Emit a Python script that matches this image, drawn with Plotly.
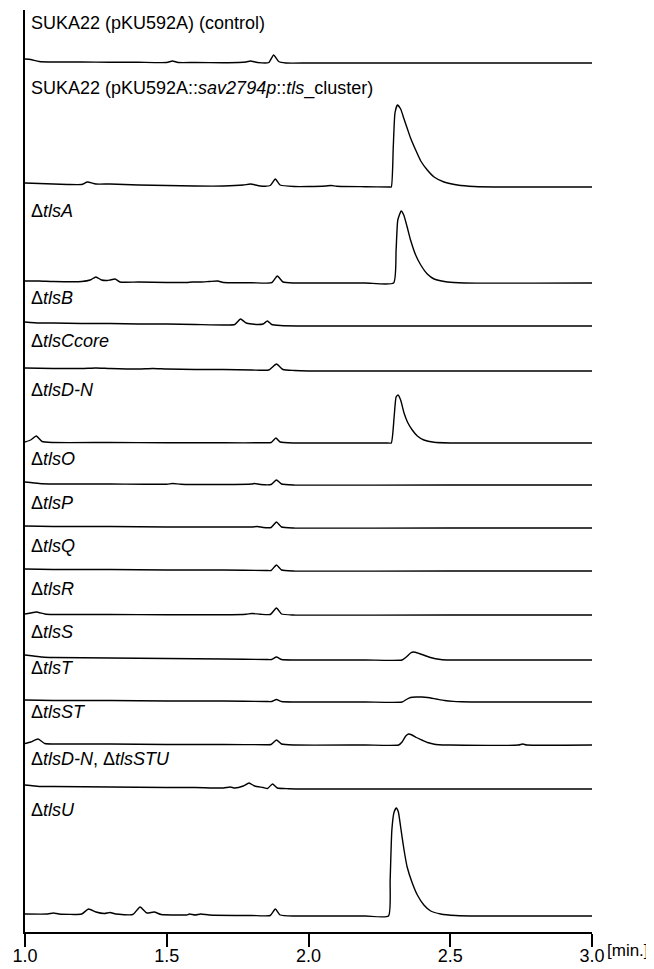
import plotly.graph_objects as go

# ---------------- data (signal height above each trace's own baseline) ----------------
labels = [
    "SUKA22 (pKU592A) (control)",
    "SUKA22 (pKU592A::<i>sav2794p</i>::<i>tls</i>_cluster)",
    "Δ<i>tlsA</i>", "Δ<i>tlsB</i>", "Δ<i>tlsCcore</i>", "Δ<i>tlsD-N</i>",
    "Δ<i>tlsO</i>", "Δ<i>tlsP</i>", "Δ<i>tlsQ</i>", "Δ<i>tlsR</i>",
    "Δ<i>tlsS</i>", "Δ<i>tlsT</i>", "Δ<i>tlsST</i>",
    "Δ<i>tlsD-N</i>, Δ<i>tlsSTU</i>", "Δ<i>tlsU</i>",
]
# vertical baseline offset of each chromatogram
offsets = [869, 745, 649, 606, 561, 489, 447, 404, 361, 317, 272, 230, 187, 143, 16]
# vertical position of each label
label_y = [909, 844, 721, 634.5, 591, 542, 473, 429, 386.5, 343, 300, 264, 220, 173.5, 122.5]

control_t = [1.00, 1.02, 1.05, 1.10, 1.20, 1.30, 1.40, 1.50, 1.52, 1.54, 1.60, 1.70, 1.78, 1.795,
             1.82, 1.86, 1.877, 1.895, 1.92, 2.0, 2.2, 2.4, 2.6, 2.8, 3.0]
control_y = [4, 3.5, 1.5, 1, 1, 0.8, 0.7, 0.5, 2, 0.5, 0.5, 0.3, 1, 2,
             0.5, 0.5, 8, 1.5, 0, 0, 0, 0, 0, 0, 0]

cluster_t = [1.00, 1.05, 1.10, 1.15, 1.20, 1.22, 1.25, 1.30, 1.40, 1.50, 1.60, 1.70, 1.77, 1.795,
             1.83, 1.865, 1.883, 1.90, 1.95, 2.00, 2.06, 2.08, 2.10, 2.20, 2.285, 2.292, 2.299,
             2.305, 2.3135, 2.325, 2.337, 2.349, 2.360, 2.378, 2.396, 2.419, 2.443, 2.478,
             2.525, 2.584, 2.7, 3.0]
cluster_y = [4, 3.5, 3, 2.5, 2.5, 5, 3, 3, 2, 1.5, 1, 1, 2, 3,
             1, 1.5, 8, 2, 0.5, 0.5, 1, 1.5, 0.8, 0.3, 0, 0, 40,
             74, 82, 78, 68, 58, 49, 37, 26, 17, 10, 5,
             2, 0.5, 0, 0]

tlsA_t = [1.00, 1.05, 1.10, 1.20, 1.23, 1.25, 1.27, 1.29, 1.30, 1.318, 1.335, 1.40, 1.50, 1.57,
          1.59, 1.62, 1.65, 1.68, 1.70, 1.80, 1.87, 1.89, 1.91, 1.95, 2.0, 2.2, 2.300, 2.309,
          2.315, 2.327, 2.336, 2.348, 2.360, 2.378, 2.396, 2.419, 2.443, 2.490, 2.55, 3.0]
tlsA_y = [2, 2, 1.5, 1.5, 3, 6, 3, 2.5, 3, 4, 1, 1, 0.5, 0.5,
          1, 1, 1.5, 2, 0.5, 0.3, 0.3, 7, 1, 0, 0, 0, 0, 33,
          63, 72, 68, 56, 43, 28, 18, 9, 4, 1, 0, 0]

tlsB_t = [1.00, 1.05, 1.10, 1.20, 1.30, 1.40, 1.50, 1.60, 1.70, 1.74, 1.76, 1.78, 1.82, 1.84,
          1.855, 1.87, 1.90, 2.0, 2.2, 2.5, 2.8, 3.0]
tlsB_y = [4, 3, 3, 2.5, 2.5, 2, 2, 1.5, 1, 1.5, 7, 3, 1.5, 2,
          5, 1.5, 0.5, 0, 0, 0, 0, 0]

tlsC_t = [1.00, 1.10, 1.20, 1.25, 1.30, 1.40, 1.45, 1.50, 1.60, 1.70, 1.80, 1.86, 1.887, 1.91,
          1.95, 2.0, 2.5, 3.0]
tlsC_y = [3, 2.5, 2.5, 3, 2.5, 2, 2.5, 2, 1.5, 1.5, 1, 1, 7, 1.5,
          0.5, 0, 0, 0]

tlsDN_t = [1.00, 1.02, 1.04, 1.06, 1.10, 1.30, 1.50, 1.70, 1.85, 1.868, 1.885, 1.90, 1.95, 2.0,
           2.2, 2.28, 2.292, 2.302, 2.309, 2.316, 2.325, 2.337, 2.349, 2.366, 2.384, 2.407,
           2.443, 2.5, 3.0]
tlsDN_y = [1, 3, 7, 1.5, 0.5, 0.5, 0.3, 0.2, 0.2, 0.5, 5, 1, 0, 0,
           0, 0, 0, 26, 46, 48, 43, 30, 21, 13, 7, 3,
           0.7, 0, 0]

tlsO_t = [1.00, 1.05, 1.10, 1.30, 1.50, 1.52, 1.55, 1.70, 1.80, 1.81, 1.83, 1.868, 1.887, 1.905,
          1.95, 2.5, 3.0]
tlsO_y = [3, 1.5, 1, 1, 0.8, 1.5, 0.8, 0.5, 1, 1.5, 0.5, 0.5, 5, 1,
          0, 0, 0]

tlsP_t = [1.00, 1.10, 1.30, 1.50, 1.70, 1.80, 1.82, 1.84, 1.868, 1.887, 1.905, 1.95, 2.5, 3.0]
tlsP_y = [2, 1.5, 1.5, 1, 1, 1, 1.5, 0.5, 0.5, 6, 1, 0, 0, 0]

tlsQ_t = [1.00, 1.10, 1.30, 1.50, 1.70, 1.85, 1.868, 1.887, 1.905, 1.95, 2.5, 3.0]
tlsQ_y = [2, 1.5, 1.5, 1, 1, 0.5, 0.5, 6, 1, 0, 0, 0]

tlsR_t = [1.00, 1.02, 1.04, 1.07, 1.10, 1.30, 1.50, 1.70, 1.78, 1.80, 1.83, 1.865, 1.887, 1.905,
          1.95, 2.5, 3.0]
tlsR_y = [1, 2, 3, 1, 0.5, 0.5, 0.3, 0.3, 0.8, 1.5, 0.8, 0.5, 7, 1,
          0, 0, 0]

tlsS_t = [1.00, 1.03, 1.06, 1.10, 1.30, 1.50, 1.70, 1.85, 1.87, 1.887, 1.905, 1.95, 2.2, 2.33,
          2.345, 2.36, 2.37, 2.39, 2.41, 2.43, 2.466, 2.5, 3.0]
tlsS_y = [5, 4, 3, 2.5, 2, 1.5, 1, 0.5, 0.5, 3, 0.5, 0, 0, 0,
          3, 7, 8, 6.5, 4.5, 2.5, 0.5, 0, 0]

tlsT_t = [1.00, 1.10, 1.30, 1.50, 1.70, 1.85, 1.87, 1.887, 1.905, 1.95, 2.2, 2.33, 2.345, 2.36,
          2.38, 2.40, 2.42, 2.45, 2.48, 2.51, 2.54, 2.6, 3.0]
tlsT_y = [2, 1.5, 1.5, 1, 1, 0.5, 0.5, 2.5, 0.5, 0, 0, 0, 2.5, 4.5,
          5, 5, 4.5, 3, 1.5, 0.6, 0.2, 0, 0]

tlsST_t = [1.00, 1.02, 1.046, 1.07, 1.10, 1.30, 1.50, 1.70, 1.85, 1.868, 1.887, 1.905, 1.95, 2.2,
           2.318, 2.33, 2.343, 2.353, 2.365, 2.38, 2.40, 2.42, 2.44, 2.46, 2.5, 2.74, 2.756,
           2.77, 3.0]
tlsST_y = [1.5, 3, 6, 1.5, 1, 1, 0.5, 0.5, 0.3, 0.5, 5, 1, 0, 0,
           0, 3, 9, 11, 10, 7.5, 5, 2.5, 1, 0.3, 0, 0, 1,
           0, 0]

tlsDNSTU_t = [1.00, 1.05, 1.10, 1.30, 1.50, 1.60, 1.70, 1.724, 1.74, 1.77, 1.79, 1.81, 1.84,
              1.855, 1.873, 1.89, 1.93, 2.0, 2.5, 3.0]
tlsDNSTU_y = [4, 2.5, 2.5, 2, 1.5, 1.5, 1, 2, 1, 3, 6, 3, 1.5,
              0.5, 5, 1, 0.3, 0, 0, 0]

tlsU_t = [1.00, 1.08, 1.10, 1.12, 1.20, 1.224, 1.25, 1.28, 1.30, 1.32, 1.38, 1.406, 1.43, 1.456,
          1.48, 1.55, 1.57, 1.58, 1.60, 1.62, 1.65, 1.80, 1.865, 1.883, 1.90, 1.95, 2.0, 2.2,
          2.282, 2.288, 2.294, 2.302, 2.310, 2.317, 2.325, 2.337, 2.348, 2.366, 2.384, 2.407,
          2.431, 2.466, 2.52, 2.6, 3.0]
tlsU_y = [2, 2, 3, 2, 2, 7, 4, 2.5, 3.5, 2, 1.5, 9, 3, 4,
          1.5, 1, 1, 2, 1, 2, 1, 0.5, 0.5, 7, 1, 0, 0, 0,
          0, 36, 86, 104, 108, 104, 89, 66, 49, 33, 21, 11,
          5, 2, 0.5, 0, 0]

series_t = [control_t, cluster_t, tlsA_t, tlsB_t, tlsC_t, tlsDN_t, tlsO_t, tlsP_t, tlsQ_t,
            tlsR_t, tlsS_t, tlsT_t, tlsST_t, tlsDNSTU_t, tlsU_t]
series_y = [control_y, cluster_y, tlsA_y, tlsB_y, tlsC_y, tlsDN_y, tlsO_y, tlsP_y, tlsQ_y,
            tlsR_y, tlsS_y, tlsT_y, tlsST_y, tlsDNSTU_y, tlsU_y]

tick_vals = [1.0, 1.5, 2.0, 2.5, 3.0]
tick_text = ["1.0", "1.5", "2.0", "2.5", "3.0"]
unit_text = "[min.]"

FONT = "Liberation Sans, Arial, Helvetica, sans-serif"

fig = go.Figure()
for t, y, off in zip(series_t, series_y, offsets):
    fig.add_trace(go.Scatter(
        x=t, y=[v + off for v in y], mode="lines",
        line=dict(color="black", width=1.4, shape="spline", smoothing=0.5),
        hoverinfo="skip", showlegend=False,
    ))

for lab, ly in zip(labels, label_y):
    fig.add_annotation(x=1.021, y=ly, xref="x", yref="y", text=lab, showarrow=False,
                       xanchor="left", yanchor="middle", xshift=-2,
                       font=dict(family=FONT, size=18, color="black"))

fig.add_annotation(x=3.0, y=0, xref="x", yref="paper", text=unit_text, showarrow=False,
                   xanchor="left", yanchor="top", xshift=14, yshift=-8, borderpad=0,
                   font=dict(family=FONT, size=17, color="black"))

# the page body adds an 8 px offset at top/left, so the figure is 8 px smaller on each axis
fig.update_layout(
    width=646, height=961,
    margin=dict(l=17, r=62, t=2, b=37, autoexpand=False),
    paper_bgcolor="white", plot_bgcolor="white",
    font=dict(family=FONT, size=18, color="black"),
    xaxis=dict(range=[1.0, 3.0], showline=True, linecolor="black", linewidth=2,
               ticks="outside", ticklen=13, tickwidth=2, tickcolor="black",
               tickvals=tick_vals, ticktext=tick_text, showgrid=False, zeroline=False,
               automargin=False, ticklabelstandoff=-7,
               tickfont=dict(family=FONT, size=18, color="black")),
    yaxis=dict(range=[0, 922], showline=True, linecolor="black", linewidth=2,
               showticklabels=False, ticks="", showgrid=False, zeroline=False,
               automargin=False),
)

fig.write_html("out.html")
